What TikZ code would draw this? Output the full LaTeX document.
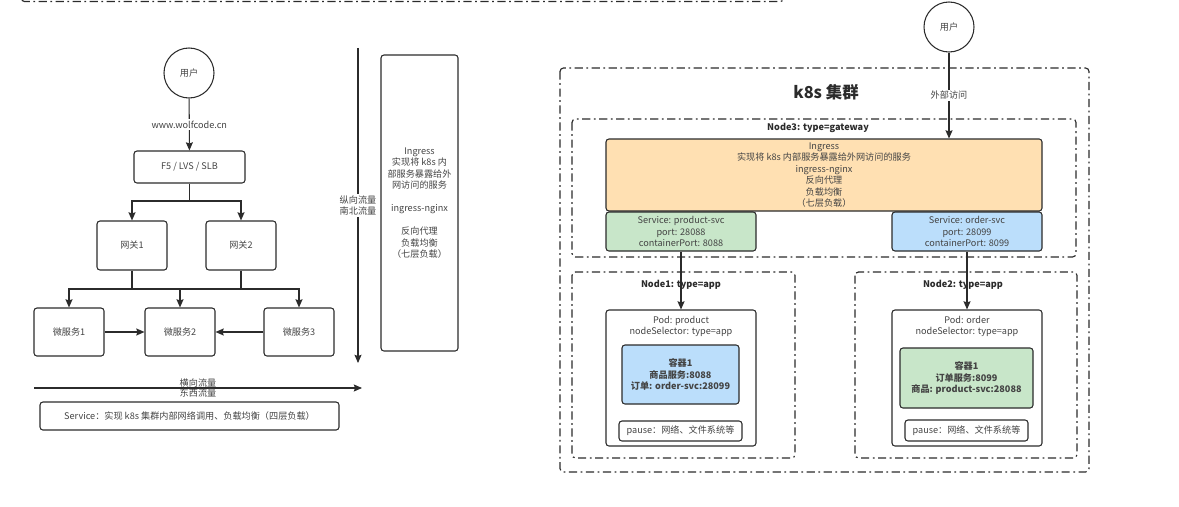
\documentclass[tikz,border=0pt]{standalone}
\usepackage{fontspec}
\setmainfont{Noto Sans CJK SC}
\usetikzlibrary{arrows.meta}
\definecolor{ink}{HTML}{2B2B2B}
\definecolor{txt}{HTML}{444444}
\definecolor{ingfill}{HTML}{FFE0B2}
\definecolor{grnfill}{HTML}{C8E6C9}
\definecolor{blufill}{HTML}{BBDEFB}
\begin{document}
\begin{tikzpicture}[x=0.03cm,y=-0.03cm,
  every node/.style={font=\fontsize{7.8}{9.8}\selectfont,text=txt,align=center,inner sep=1pt},
  box/.style 2 args={draw=ink,line width=0.9pt,rounded corners=2.5pt,minimum width=#1*0.03cm,minimum height=#2*0.03cm},
  user/.style={draw=ink,line width=0.9pt,circle,minimum size=1.5cm},
  arr/.style={draw=ink,line width=0.9pt,-{Stealth[length=7pt,width=6pt,inset=1pt]}},
  ln/.style={draw=ink,line width=0.9pt},
  grp/.style={draw=ink,line width=1pt,rounded corners=3pt,dash pattern=on 7pt off 3pt on 1.5pt off 3pt},
  ttl/.style={font=\fontsize{7.8}{9.8}\selectfont\bfseries,text=ink},
  lbl/.style={fill=white,inner sep=1.5pt}]
\def\lh{9.8pt}
\useasboundingbox (0,0) rectangle (1179,507);
\draw[grp] (21,-20) rectangle (784,1.5);

\node[user] (u1) at (189,73) {用户};
\node[box={111}{32}] (lb) at (189.5,167) {F5 / LVS / SLB};
\node[box={70}{49}] (gw1) at (132,245.5) {网关1};
\node[box={70}{49}] (gw2) at (241,245.5) {网关2};
\node[box={70}{48}] (ms1) at (69,332) {微服务1};
\node[box={70}{48}] (ms2) at (180,332) {微服务2};
\node[box={70}{48}] (ms3) at (299,332) {微服务3};
\node[box={299}{28}] (svc) at (189.5,416) {Service：实现 k8s 集群内部网络调用、负载均衡（四层负载）};
\node[box={77}{296}] (ingl) at (419.5,203) {Ingress\\实现将 k8s 内\\部服务暴露给外\\网访问的服务\\[\lh]ingress-nginx\\[\lh]反向代理\\负载均衡\\（七层负载）};

\coordinate (j1) at (189.5,201);
\coordinate (j2) at (180,289);
\coordinate (ew1) at (34,388);
\coordinate (ew2) at (362,388);
\coordinate (ns1) at (358,48);
\coordinate (ns2) at (358,363);

\draw[arr] (u1) -- node[lbl]{www.wolfcode.cn} (lb);
\draw[ln] (lb) -- (j1);
\draw[arr] (j1) -| (gw1);
\draw[arr] (j1) -| (gw2);
\draw[ln] (gw1) -- (gw1.south |- j2);
\draw[ln] (gw2) -- (gw2.south |- j2);
\draw[arr] (j2) -| (ms1);
\draw[arr] (j2) -| (ms3);
\draw[arr] (j2) -- (ms2);
\draw[arr] (ms1) -- (ms2);
\draw[arr] (ms3) -- (ms2);
\draw[arr] (ew1) -- node[above=0pt,inner sep=0.5pt]{横向流量} node[below=0pt,inner sep=0.5pt]{东西流量} (ew2);
\draw[arr] (ns1) -- node[lbl]{纵向流量\\南北流量} (ns2);

\draw[grp] (560,68) rectangle (1089,472);
\draw[grp] (572,119) rectangle (1076,257);
\draw[grp] (572,272) rectangle (795,458);
\draw[grp] (855,272) rectangle (1077,458);
\node[font=\fontsize{14}{16}\selectfont\bfseries,text=ink] (k8s) at (826,92) {k8s 集群};
\node[ttl] (n3) at (818,128) {Node3: type=gateway};
\node[ttl] (n1) at (681,285) {Node1: type=app};
\node[ttl] (n2) at (963,285) {Node2: type=app};

\node[user] (u2) at (949,27) {用户};
\node[box={436}{72},fill=ingfill] (ing) at (824,175) {Ingress\\实现将 k8s 内部服务暴露给外网访问的服务\\ingress-nginx\\反向代理\\负载均衡\\（七层负载）};
\node[box={150}{39},fill=grnfill] (psvc) at (681,231.5) {Service: product-svc\\port: 28088\\containerPort: 8088};
\node[box={150}{39},fill=blufill] (osvc) at (967,231.5) {Service: order-svc\\port: 28099\\containerPort: 8099};

\node[box={150}{136}] (pod1) at (681,378) {};
\node (pod1t) at (681,326.5) {Pod: product\\nodeSelector: type=app};
\node[box={117}{59},fill=blufill,font=\fontsize{7.8}{9.8}\selectfont\bfseries] (c1) at (680.5,374.5) {容器1\\商品服务:8088\\订单: order-svc:28099};
\node[box={123}{20}] (ps1) at (680.5,431) {pause：网络、文件系统等};

\node[box={150}{136}] (pod2) at (967,378) {};
\node (pod2t) at (967,326.5) {Pod: order\\nodeSelector: type=app};
\node[box={133}{60},fill=grnfill,font=\fontsize{7.8}{9.8}\selectfont\bfseries] (c2) at (966.5,378) {容器1\\订单服务:8099\\商品: product-svc:28088};
\node[box={123}{21}] (ps2) at (966.5,430.5) {pause：网络、文件系统等};

\draw[arr] (u2) -- node[lbl]{外部访问} (u2 |- ing.north);
\draw[arr] (psvc) -- (pod1);
\draw[arr] (osvc) -- (pod2);
\end{tikzpicture}
\end{document}
